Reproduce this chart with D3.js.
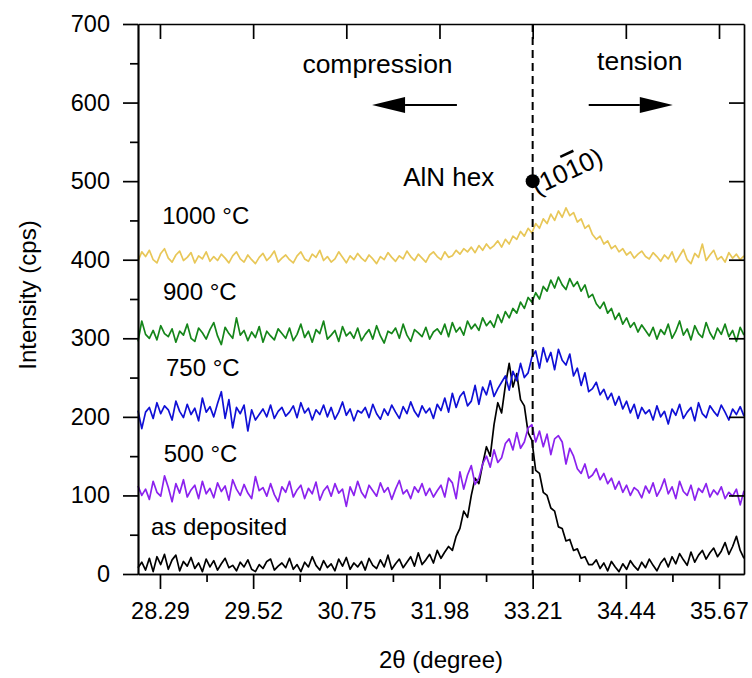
<!DOCTYPE html>
<html><head><meta charset="utf-8">
<script src="https://cdn.jsdelivr.net/npm/d3@7"></script>
<style>
html,body{margin:0;padding:0;background:#fff;}
svg{display:block;font-family:"Liberation Sans",Arial,sans-serif;}
</style></head>
<body>
<svg id="chart" width="752" height="678"></svg>
<script>
// ---- data ----
const angleStart = 28.0, angleStep = 0.05;   // 2θ sampling grid (161 points)
const seriesNames = ["as deposited", "500 °C", "750 °C", "900 °C", "1000 °C"];
const seriesColors = ["#000000", "#8b22ee", "#1010d6", "#15861a", "#e8c758"];

const asDeposited = [
 8,15,5,20,3,22,12,25,6,18,24,4,16,10,21,7,14,3,19,9,
 17,5,13,20,8,11,4,15,9,18,6,3,12,7,16,19,5,10,14,8,
 20,6,12,3,15,9,22,11,5,17,8,13,4,19,10,21,6,14,9,16,
 5,20,11,7,18,9,24,6,13,19,8,15,22,10,27,12,18,25,14,30,
 20,28,35,30,48,58,80,72,100,122,115,140,162,150,190,218,205,240,268,238,
 255,222,214,180,170,132,128,104,100,84,80,60,58,42,44,30,32,20,22,12,
 12,18,7,14,4,16,9,3,13,6,17,10,5,15,8,19,11,4,14,20,
 9,22,13,26,18,11,28,15,24,30,19,27,33,22,29,40,25,35,48,30,20];
const t500 = [
 112,100,108,95,118,104,99,125,110,92,115,103,120,98,107,113,96,118,102,109,
 97,116,105,112,94,120,108,100,114,103,96,124,106,110,99,115,101,92,111,104,
 118,98,107,113,96,109,102,117,94,106,112,99,115,103,108,86,111,100,118,104,
 97,113,106,99,116,104,110,95,108,119,102,107,96,111,104,115,100,109,98,106,
 113,98,122,116,96,130,108,126,138,114,122,140,150,136,158,142,148,166,172,158,
 180,160,168,186,190,168,182,162,178,152,172,176,168,140,160,150,134,128,140,122,
 126,134,120,128,115,122,108,118,104,113,100,110,106,97,112,103,116,99,108,121,
 102,111,96,118,105,100,113,94,109,104,115,98,107,101,111,96,104,99,108,88,106];
const t750 = [
 208,185,206,212,198,218,204,214,209,196,220,207,199,216,203,211,195,224,206,213,
 200,217,232,198,222,186,212,204,215,182,209,196,203,210,200,215,198,207,212,201,
 206,214,199,218,205,211,196,209,203,215,200,212,197,206,219,202,210,195,208,205,
 212,199,216,204,197,210,202,215,206,198,213,204,219,207,200,214,205,211,198,216,
 208,224,206,230,212,226,232,214,220,240,216,238,228,246,226,236,244,252,234,258,
 246,268,250,256,276,284,262,288,270,282,260,286,272,266,280,252,262,240,256,232,
 236,244,228,235,222,230,215,226,210,220,205,216,198,212,204,209,196,214,200,207,
 191,210,202,216,198,206,212,195,218,204,199,214,207,201,215,206,196,210,203,213,201];
const t900 = [
 296,322,305,300,310,298,316,306,302,312,295,309,304,318,300,296,313,307,299,311,
 320,303,292,314,306,300,326,304,310,297,308,301,315,295,309,303,298,312,306,300,
 313,297,305,318,301,309,295,311,306,322,299,304,310,296,315,303,308,300,313,297,
 305,311,299,316,303,294,309,306,313,300,318,304,296,311,307,302,314,299,308,312,
 305,318,302,320,308,314,304,322,312,318,310,326,316,322,314,330,320,334,326,338,
 332,346,338,352,346,358,350,366,360,374,364,378,368,362,376,366,372,360,368,352,
 356,344,338,346,332,338,324,332,318,326,314,320,308,317,310,303,314,299,311,305,
 318,300,309,322,304,312,298,316,306,301,320,307,299,313,305,318,302,310,296,314,304];
const t1000 = [
 398,410,404,412,400,396,408,414,402,397,406,411,399,403,409,396,405,401,410,398,
 404,399,407,402,396,405,410,401,397,406,400,395,403,408,399,404,411,397,402,406,
 400,396,405,410,401,398,407,403,412,399,404,397,401,410,403,396,405,400,408,402,
 398,406,401,395,404,400,409,403,398,405,401,411,404,399,407,402,397,406,410,404,
 400,410,403,405,412,407,414,410,416,409,418,412,420,414,418,424,416,426,420,430,
 426,436,430,440,434,446,440,452,446,458,450,462,454,466,456,460,448,452,440,444,
 432,426,430,420,424,414,418,410,414,406,410,402,407,411,404,401,409,404,398,406,
 401,410,397,405,413,400,395,408,403,420,399,406,412,400,404,397,409,402,407,400,405];

const xTickValues = [28.29, 29.52, 30.75, 31.98, 33.21, 34.44, 35.67];
const xMinorTicks = [28.905, 30.135, 31.365, 32.595, 33.825, 35.055];
const yTickValues = [0, 100, 200, 300, 400, 500, 600, 700];
const yMinorTicks = [50, 150, 250, 350, 450, 550, 650];
const refPeak = 33.21;        // AlN hex (10-10)
const refPeakIntensity = 500;

// ---- chart ----
const svg = d3.select("#chart");
const m = {left: 138, right: 8, top: 24, bottom: 104};
const W = 752, H = 678;
const x = d3.scaleLinear().domain([28, 36]).range([m.left, W - m.right]);
const y = d3.scaleLinear().domain([0, 700]).range([H - m.bottom, m.top]);

const allSeries = [asDeposited, t500, t750, t900, t1000];
const line = d3.line().x((d, i) => x(angleStart + i * angleStep)).y(d => y(d));

const plot = svg.append("g");
allSeries.forEach((s, k) => {
  plot.append("path").datum(s).attr("d", line)
    .attr("fill", "none").attr("stroke", seriesColors[k])
    .attr("stroke-width", 1.7).attr("stroke-linejoin", "round");
});

// dashed reference line
svg.append("line").attr("x1", x(refPeak)).attr("x2", x(refPeak))
  .attr("y1", y(700)).attr("y2", y(0))
  .attr("stroke", "#000").attr("stroke-width", 2).attr("stroke-dasharray", "8,5");

// axes
const fs = "23.5px";
const gB = svg.append("g").attr("transform", `translate(0,${y(0)})`)
  .call(d3.axisBottom(x).tickValues(xTickValues).tickFormat(d3.format(".2f")).tickSize(15).tickSizeOuter(0).tickPadding(13));
const gBm = svg.append("g").attr("transform", `translate(0,${y(0)})`)
  .call(d3.axisBottom(x).tickValues(xMinorTicks).tickFormat("").tickSize(8).tickSizeOuter(0));
const gT = svg.append("g").attr("transform", `translate(0,${y(700)})`)
  .call(d3.axisBottom(x).tickValues(xTickValues).tickFormat("").tickSize(15).tickSizeOuter(0));
const gL = svg.append("g").attr("transform", `translate(${x(28)},0)`)
  .call(d3.axisLeft(y).tickValues(yTickValues).tickSize(15).tickSizeOuter(0).tickPadding(13));
const gLm = svg.append("g").attr("transform", `translate(${x(28)},0)`)
  .call(d3.axisLeft(y).tickValues(yMinorTicks).tickFormat("").tickSize(8).tickSizeOuter(0));
const gR = svg.append("g").attr("transform", `translate(${x(36)},0)`)
  .call(d3.axisRight(y).tickValues(yTickValues.slice(1, 7)).tickFormat("").tickSize(-15).tickSizeOuter(0));
[gB, gBm, gT, gL, gLm, gR].forEach(g => {
  g.selectAll("path.domain").attr("stroke", "#000").attr("stroke-width", 1.7);
  g.selectAll(".tick line").attr("stroke", "#000").attr("stroke-width", 1.7);
  g.selectAll(".tick text").attr("fill", "#000").style("font-size", fs)
    .style("font-family", '"Liberation Sans", Arial, sans-serif');
});

// axis titles
svg.append("text").attr("x", (x(28) + x(36)) / 2).attr("y", 668)
  .attr("text-anchor", "middle").style("font-size", "24px").attr("fill", "#000")
  .text("2θ (degree)");
svg.append("text").attr("transform", `translate(36,${y(355)}) rotate(-90)`)
  .attr("text-anchor", "middle").style("font-size", "24px").attr("fill", "#000")
  .text("Intensity (cps)");

// series labels
const labelPos = [[28.17, 50], [28.34, 143], [28.37, 252], [28.33, 349], [28.32, 445]];
seriesNames.forEach((n, k) => {
  svg.append("text").attr("x", x(labelPos[k][0])).attr("y", y(labelPos[k][1]))
    .style("font-size", "24px").attr("fill", "#000").text(n);
});

// annotations
svg.append("text").attr("x", x(30.17)).attr("y", y(638)).style("font-size", "26.5px").attr("fill", "#000").text("compression");
svg.append("text").attr("x", x(34.06)).attr("y", y(641)).style("font-size", "26.5px").attr("fill", "#000").text("tension");
svg.append("text").attr("x", x(31.5)).attr("y", y(494)).style("font-size", "26px").attr("fill", "#000").text("AlN hex");

function arrow(x0, x1, v) {
  const yy = y(v), dir = Math.sign(x1 - x0), tip = x(x1), head = 33, hw = 8;
  svg.append("line").attr("x1", x(x0)).attr("x2", tip - dir * head).attr("y1", yy).attr("y2", yy)
    .attr("stroke", "#000").attr("stroke-width", 2);
  svg.append("path").attr("d", `M${tip},${yy} L${tip - dir * head},${yy - hw} L${tip - dir * head},${yy + hw} Z`)
    .attr("fill", "#000");
}
arrow(32.21, 31.09, 597);
arrow(33.95, 35.06, 597);

svg.append("circle").attr("cx", x(refPeak)).attr("cy", y(refPeakIntensity)).attr("r", 7).attr("fill", "#000");
const hkl = svg.append("text")
  .attr("transform", `translate(${x(refPeak) + 4},${y(refPeakIntensity) + 14}) rotate(-25)`)
  .style("font-size", "26px").attr("fill", "#000");
hkl.append("tspan").text("(10");
hkl.append("tspan").style("text-decoration", "overline").text("1");
hkl.append("tspan").text("0)");
</script>
</body></html>
